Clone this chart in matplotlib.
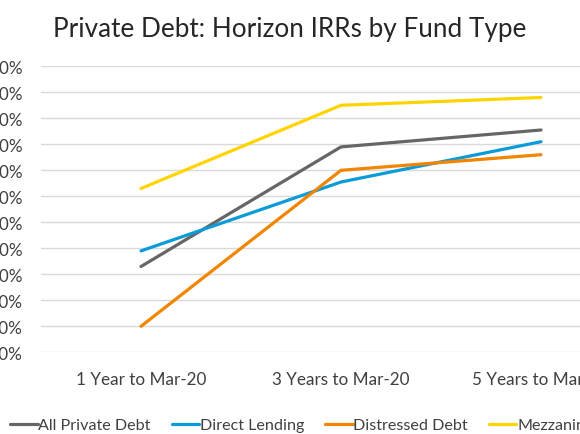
import numpy as np
import matplotlib
matplotlib.use("Agg")
import matplotlib.pyplot as plt
from matplotlib.ticker import FuncFormatter

plt.rcParams['font.family'] = ['Lato', 'DejaVu Sans']

# horizon IRRs (%)
periods = ["1 Year to Mar-20", "3 Years to Mar-20", "5 Years to Mar-20"]
all_private_debt = [0.3, 4.9, 5.55]
direct_lending = [0.9, 3.55, 5.1]
distressed_debt = [-2.0, 4.0, 4.6]
mezzanine = [3.3, 6.5, 6.8]

series = [
    ("All Private Debt", all_private_debt, "#666666"),
    ("Direct Lending", direct_lending, "#0A9BD8"),
    ("Distressed Debt", distressed_debt, "#F28500"),
    ("Mezzanine", mezzanine, "#FFD400"),
]

W, H = 580, 435
fig = plt.figure(figsize=(W / 100, H / 100), dpi=100)
# axes runs off the right edge, like the cropped original
ax = fig.add_axes([41 / W, (H - 353.3) / H, 600 / W, 286 / H])

x = np.arange(len(periods)) + 0.5
for name, vals, col in series:
    ax.plot(x, vals, color=col, lw=2.3, label=name, solid_capstyle='round')

ax.set_xlim(0, 3)
ax.set_ylim(-3, 8)
ax.set_yticks(np.arange(-3, 8.1, 1))
ax.yaxis.set_major_formatter(FuncFormatter(lambda v, p: f"{v:.1f}%"))
ax.set_xticks(x)
ax.set_xticklabels(periods)
ax.grid(axis='y', color='#D9D9D9', lw=1)
ax.set_axisbelow(True)
for s in ax.spines.values():
    s.set_visible(False)
ax.tick_params(axis='both', length=0, labelsize=12.3, colors='#404040')
ax.tick_params(axis='y', pad=13)
ax.tick_params(axis='x', pad=13.5)

fig.text(289.5 / W, 1 - 37 / H, "Private Debt: Horizon IRRs by Fund Type",
         ha='center', va='baseline', fontsize=18.8, color='#262626')

fig.legend(loc='center', bbox_to_anchor=(302 / W, 9 / H), ncol=4, frameon=False,
           fontsize=11.6, handlelength=1.7, handletextpad=0.05, columnspacing=1.3,
           labelcolor='#404040', borderpad=0.2)

fig.savefig("out.png", dpi=100)
